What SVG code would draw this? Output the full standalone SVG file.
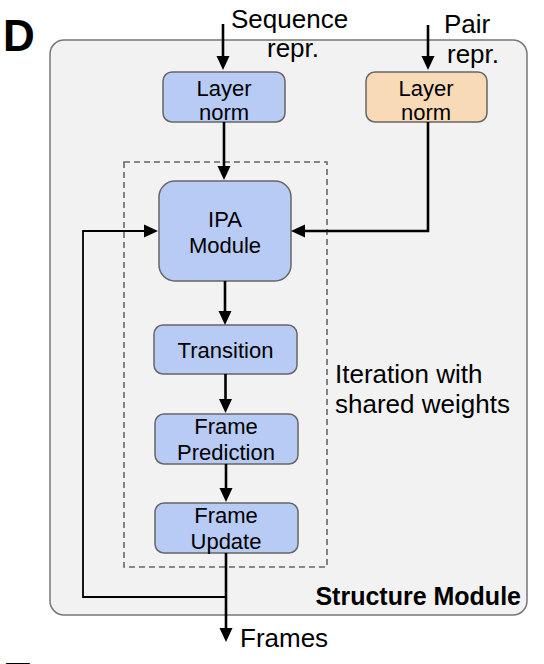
<svg xmlns="http://www.w3.org/2000/svg" width="544" height="664" viewBox="0 0 544 664">
<style>
text{font-family:"Liberation Sans",Arial,sans-serif;fill:#000}
.lbl{font-size:26px}
.box{font-size:22px;text-anchor:middle}
.blue{fill:#b8cbf4;stroke:#666;stroke-width:1.5}
.orange{fill:#f8dbb6;stroke:#666;stroke-width:1.5}
.conn{fill:none;stroke:#000;stroke-width:2.6}
.fb{fill:none;stroke:#000;stroke-width:1.8}
.panel{font-size:44px;font-weight:bold}
</style>
<defs>
<marker id="ah" markerUnits="userSpaceOnUse" markerWidth="14" markerHeight="14" viewBox="0 0 14 14" refX="2" refY="7" orient="auto">
<path d="M0,0.5 L14,7 L0,13.5 z" fill="#000"/>
</marker>
</defs>
<g id="panel-label">
<text class="panel" x="3" y="51">D</text>
<text class="panel" x="3" y="694">E</text>
</g>
<g id="structure-module">
<rect x="50" y="40" width="477" height="575" rx="14" fill="#f2f2f2" stroke="#777" stroke-width="1.5"/>
<text x="521" y="605" style="font-size:25px;font-weight:bold;text-anchor:end">Structure Module</text>
</g>
<g id="iteration">
<rect x="124" y="162" width="203" height="405" fill="none" stroke="#666" stroke-width="1.6" stroke-dasharray="6,4"/>
<text class="lbl" x="335" y="383">Iteration with</text>
<text class="lbl" x="335" y="413">shared weights</text>
</g>
<g id="inputs">
<text class="lbl" x="231" y="28">Sequence</text>
<text class="lbl" x="267" y="57">repr.</text>
<text class="lbl" x="444" y="33">Pair</text>
<text class="lbl" x="447" y="63">repr.</text>
</g>
<g id="layer-norm-seq">
<rect class="blue" x="163" y="72" width="122" height="50" rx="9"/>
<text class="box" x="224" y="96">Layer</text>
<text class="box" x="224" y="120">norm</text>
</g>
<g id="layer-norm-pair">
<rect class="orange" x="366" y="72" width="121" height="50" rx="9"/>
<text class="box" x="426" y="96">Layer</text>
<text class="box" x="426" y="120">norm</text>
</g>
<g id="ipa-module">
<rect class="blue" x="159" y="181" width="132" height="100" rx="16"/>
<text class="box" x="225" y="227">IPA</text>
<text class="box" x="225" y="253">Module</text>
</g>
<g id="transition">
<rect class="blue" x="154" y="325" width="143" height="49" rx="9"/>
<text class="box" x="225.5" y="358">Transition</text>
</g>
<g id="frame-prediction">
<rect class="blue" x="155" y="414" width="143" height="50" rx="9"/>
<text class="box" x="226" y="434">Frame</text>
<text class="box" x="226" y="460">Prediction</text>
</g>
<g id="frame-update">
<rect class="blue" x="155" y="503" width="143" height="50" rx="9"/>
<text class="box" x="226" y="523">Frame</text>
<text class="box" x="226" y="549">Update</text>
</g>
<g id="outputs">
<text class="lbl" x="240" y="647">Frames</text>
</g>
<g id="connectors">
<path class="conn" d="M223,24 V58" marker-end="url(#ah)"/>
<path class="conn" d="M428,25 V58" marker-end="url(#ah)"/>
<path class="conn" d="M224,122 V168" marker-end="url(#ah)"/>
<path class="conn" d="M428,122 V231 H303" marker-end="url(#ah)"/>
<path class="conn" d="M225,281 V313" marker-end="url(#ah)"/>
<path class="conn" d="M225.5,374 V401" marker-end="url(#ah)"/>
<path class="conn" d="M226,464 V490" marker-end="url(#ah)"/>
<path class="conn" d="M226,553 V630" marker-end="url(#ah)"/>
<path class="fb" d="M226,597 H83 V231 H146" marker-end="url(#ah)"/>
</g>
</svg>
